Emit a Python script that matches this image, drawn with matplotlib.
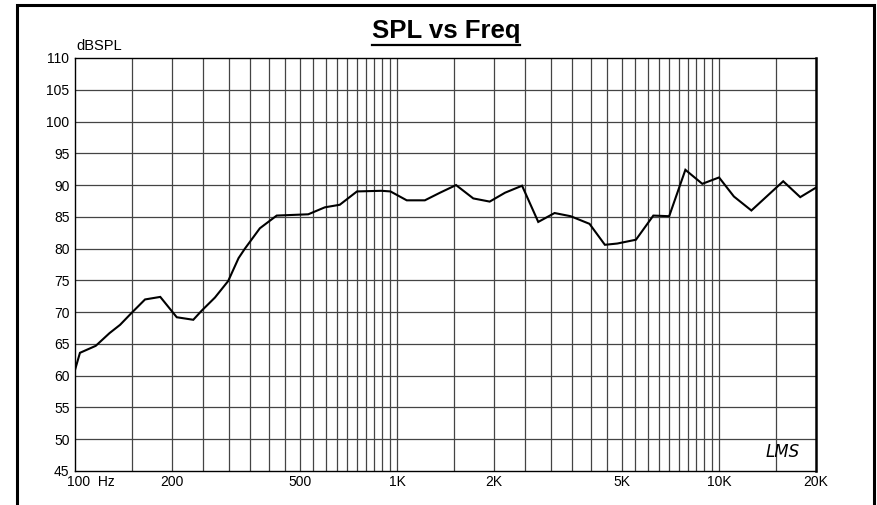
import matplotlib
matplotlib.use('Agg')
import matplotlib.pyplot as plt
import matplotlib.patches as patches
import matplotlib.transforms as mtransforms
import numpy as np

# response
freq_hz = [100, 103.6, 116, 128, 138, 150, 165, 184, 207, 233, 247, 272, 299,
           322, 337, 375, 423, 530, 597, 664, 751, 894, 954, 1072, 1220, 1360,
           1525, 1725, 1940, 2165, 2445, 2745, 3085, 3460, 3960, 4420, 4830,
           5520, 6250, 7000, 7860, 8870, 10000, 11120, 12600, 15820, 17870, 20000]
spl_db = [60.9, 63.6, 64.7, 66.7, 68.0, 69.9, 72.0, 72.4, 69.2, 68.8, 70.2, 72.3, 74.9,
          78.5, 80.0, 83.2, 85.2, 85.4, 86.5, 86.9, 89.0, 89.1, 89.0, 87.6, 87.6, 88.8,
          90.0, 87.9, 87.4, 88.8, 89.9, 84.2, 85.6, 85.1, 83.9, 80.6, 80.8,
          81.4, 85.2, 85.1, 92.4, 90.2, 91.2, 88.2, 86.0, 90.6, 88.1, 89.6]

x_ticks = [100, 200, 500, 1000, 2000, 5000, 10000, 20000]
x_labels = ['100  Hz', '200', '500', '1K', '2K', '5K', '10K', '20K']
y_ticks = list(range(45, 111, 5))

FONT = 'Liberation Sans'
GRID_COLOR = '#444444'

fig = plt.figure(figsize=(8.78, 5.05), dpi=100)
ax = fig.add_axes([75/878, 1 - 471/505, 741/878, 413/505])

ax.set_xscale('log')
ax.set_xlim(100, 20000)
ax.set_ylim(45, 110)

ax.plot(freq_hz, spl_db, color='black', lw=1.5, solid_joinstyle='miter', zorder=3)

# grid: 1, 1.5, 2, ... per decade
grid_f = [f for f in range(150, 1000, 50)] + [f for f in range(1000, 10000, 500)] + [10000, 15000]
for f in grid_f:
    ax.axvline(f, color=GRID_COLOR, lw=0.9, zorder=1)
for y in y_ticks[1:-1]:
    ax.axhline(y, color=GRID_COLOR, lw=0.9, zorder=1)

ax.xaxis.set_major_locator(matplotlib.ticker.FixedLocator(x_ticks))
ax.xaxis.set_minor_locator(matplotlib.ticker.NullLocator())
ax.set_xticklabels(x_labels, fontfamily=FONT, fontsize=10)
ax.set_yticks(y_ticks)
ax.set_yticklabels([str(v) for v in y_ticks], fontfamily=FONT, fontsize=10)
ax.tick_params(length=0, pad=4)
ax.tick_params(axis='x', pad=3)

# first x label starts at the axis edge
lbl0 = ax.get_xticklabels()[0]
lbl0.set_horizontalalignment('left')
lbl0.set_transform(lbl0.get_transform() + mtransforms.ScaledTranslation(-8/100, 0, fig.dpi_scale_trans))

for side in ['left', 'bottom', 'top']:
    ax.spines[side].set_linewidth(1.0)
    ax.spines[side].set_color('black')
ax.spines['right'].set_linewidth(1.8)

ax.text(0.002, 1.012, 'dBSPL', transform=ax.transAxes, ha='left', va='bottom',
        fontfamily=FONT, fontsize=10.5)
ax.text(0.955, 0.047, 'LMS', transform=ax.transAxes, ha='center', va='center',
        fontfamily='DejaVu Sans', fontstyle='italic', fontsize=12, fontweight='light')

# title with underline
title = fig.text(446/878, 1 - 31/505, 'SPL vs Freq', ha='center', va='center',
                 fontfamily=FONT, fontweight='bold', fontsize=18.5)
fig.canvas.draw()
bb = title.get_window_extent().transformed(fig.transFigure.inverted())
fig.add_artist(plt.Line2D([bb.x0, bb.x1], [1 - 45/505, 1 - 45/505],
                          transform=fig.transFigure, color='black', lw=1.6))

# outer frame
fig.add_artist(patches.Rectangle((17/878, -0.05), 857/878, 0.05 + 1 - 5/505,
                                 transform=fig.transFigure, fill=False,
                                 edgecolor='black', lw=2.2))

fig.savefig('out.png', dpi=100)
